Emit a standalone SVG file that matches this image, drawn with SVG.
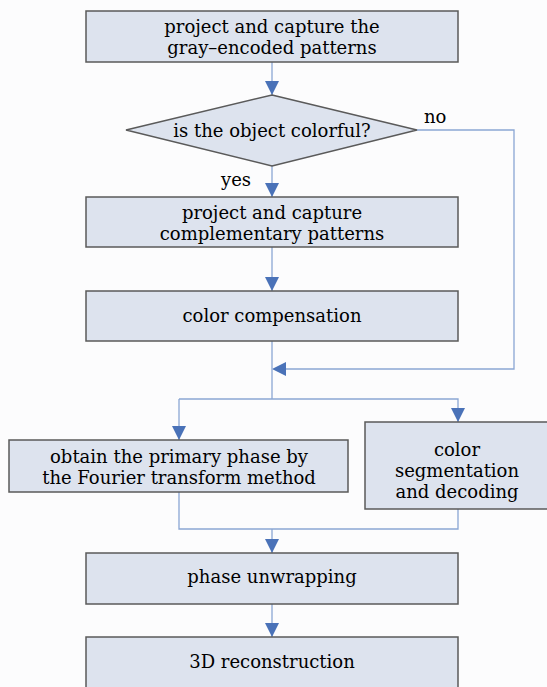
<svg xmlns="http://www.w3.org/2000/svg" width="547" height="687" viewBox="0 0 547 687">
  <defs>
    <marker id="arrow" viewBox="0 0 14 14" refX="14" refY="7" markerWidth="14" markerHeight="14" markerUnits="userSpaceOnUse" orient="auto">
      <path d="M0,0 L14,7 L0,14 Z" fill="#4a72b8"/>
    </marker>
    <style>
      .box { fill: #dde3ee; stroke: #5a5a5a; stroke-width: 1.5; }
      .lbl { font-family: "DejaVu Serif", "Liberation Serif", serif; font-size: 18px; fill: #000; text-anchor: middle; }
      .tag { font-family: "DejaVu Serif", "Liberation Serif", serif; font-size: 18px; fill: #000; }
      .wire { fill: none; stroke: #8aa6d4; stroke-width: 1.3; }
      .wire.arr { marker-end: url(#arrow); }
    </style>
  </defs>
  <rect width="547" height="687" fill="#fcfcfd"/>

  <g id="connectors">
    <path class="wire arr" d="M272,62 V95"/>
    <path class="wire arr" d="M272,166 V197"/>
    <path class="wire arr" d="M272,247 V291"/>
    <path class="wire" d="M417,130 H514 V369 H286"/>
    <path d="M272,369 L286,362 L286,376 Z" fill="#4a72b8"/>
    <path class="wire" d="M272,341 V399"/>
    <path class="wire arr" d="M179,399 V440"/>
    <path class="wire arr" d="M179,399 H458 V422"/>
    <path class="wire" d="M179,492 V529 H458 V509"/>
    <path class="wire arr" d="M272,529 V553"/>
    <path class="wire arr" d="M272,604 V637"/>
  </g>

  <g id="n1">
    <rect class="box" x="86" y="11" width="372" height="51"/>
    <text class="lbl" x="272" y="33">project and capture the</text>
    <text class="lbl" x="272" y="54">gray–encoded patterns</text>
  </g>

  <g id="n2">
    <polygon class="box" points="272,95 417,130 272,166 126,130"/>
    <text class="lbl" x="272" y="137">is the object colorful?</text>
  </g>
  <text class="tag" x="424" y="123">no</text>
  <text class="tag" x="221" y="186">yes</text>

  <g id="n3">
    <rect class="box" x="86" y="197" width="372" height="50"/>
    <text class="lbl" x="272" y="219">project and capture</text>
    <text class="lbl" x="272" y="240">complementary patterns</text>
  </g>

  <g id="n4">
    <rect class="box" x="86" y="291" width="372" height="50"/>
    <text class="lbl" x="272" y="322">color compensation</text>
  </g>

  <g id="n5">
    <rect class="box" x="9" y="440" width="339" height="52"/>
    <text class="lbl" x="179" y="463">obtain the primary phase by</text>
    <text class="lbl" x="179" y="484">the Fourier transform method</text>
  </g>

  <g id="n6">
    <rect class="box" x="365" y="422" width="190" height="87"/>
    <text class="lbl" x="457" y="456">color</text>
    <text class="lbl" x="457" y="477">segmentation</text>
    <text class="lbl" x="457" y="498">and decoding</text>
  </g>

  <g id="n7">
    <rect class="box" x="86" y="553" width="372" height="51"/>
    <text class="lbl" x="272" y="583">phase unwrapping</text>
  </g>

  <g id="n8">
    <rect class="box" x="86" y="637" width="372" height="60"/>
    <text class="lbl" x="272" y="668">3D reconstruction</text>
  </g>
</svg>
